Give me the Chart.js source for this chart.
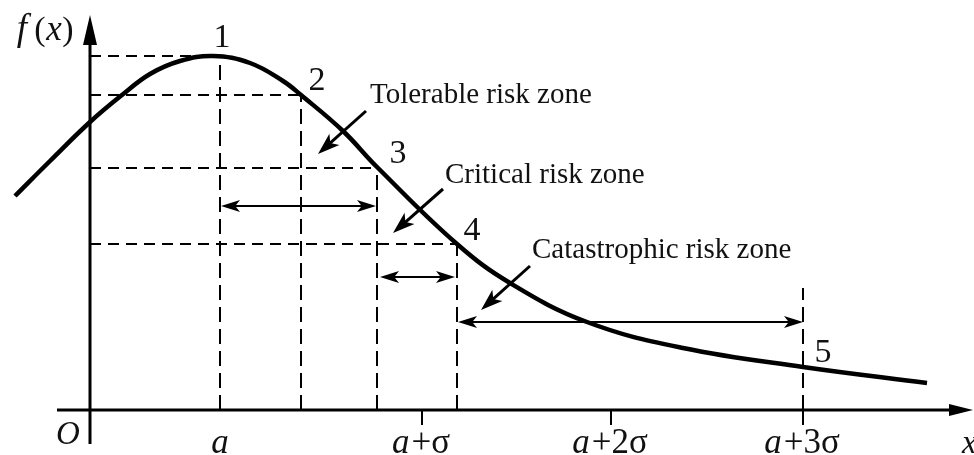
<!DOCTYPE html>
<html>
<head>
<meta charset="utf-8">
<script src="https://cdn.jsdelivr.net/npm/chart.js@4"></script>
<style>html,body{margin:0;padding:0;background:#fff;overflow:hidden}canvas{display:block}</style>
</head>
<body>
<canvas id="c" width="974" height="455"></canvas>
<script>
// ---- data (abstract units) ----
const curveX = [-7.5, -4.0, 0.0, 3.2, 6.0, 9.0, 12.3, 16.0, 19.3, 21.1, 25.3, 28.7, 36.7, 42.0, 49.7, 59.3, 71.3, 83.7];
const curveY = [21.4, 24.9, 28.8, 31.5, 33.6, 34.9, 35.4, 34.7, 32.9, 31.5, 27.9, 24.3, 16.6, 12.7, 8.8, 6.2, 4.3, 2.7];

const pointLabels = ['1', '2', '3', '4', '5'];
const pointX = [13.0, 21.1, 28.7, 36.7, 71.3];
const pointY = [35.4, 31.5, 24.2, 16.6, 12.2];
const pointHasLevel = [true, true, true, true, false];
const labelX = [13.2, 22.7, 30.8, 38.2, 73.3];
const labelY = [36.3, 32.0, 24.7, 17.0, 4.8];

const tickLabels = ['a', 'a+σ', 'a+2σ', 'a+3σ'];
const tickX = [13.0, 33.2, 52.1, 71.3];

const zoneNames = ['Tolerable risk zone', 'Critical risk zone', 'Catastrophic risk zone'];
const zoneFrom = [13.1, 29.0, 36.8];
const zoneTo = [28.6, 36.5, 71.3];
const zoneArrowY = [20.4, 13.3, 8.8];
const zoneTextX = [28.0, 35.5, 44.2];
const zoneTextY = [30.7, 22.7, 15.2];
const pointerFromX = [27.6, 35.3, 44.0];
const pointerFromY = [29.9, 22.1, 14.4];
const pointerToX = [22.8, 30.3, 39.1];
const pointerToY = [25.6, 17.7, 10.0];

// ---- datasets built from arrays ----
const curveData = curveX.map((x, i) => ({x, y: curveY[i]}));
const hDash = [];
const vDash = [];
pointX.forEach((x, i) => {
  if (pointHasLevel[i]) { hDash.push({x: 0, y: pointY[i]}, {x, y: pointY[i]}, {x, y: null}); }
  vDash.push({x, y: 0}, {x, y: pointY[i]}, {x: x + 0.01, y: null});
});

const FONT = '"Liberation Serif", "Times New Roman", serif';

function head(ctx, x1, y1, x2, y2, len, hw, barb) {
  const a = Math.atan2(y2 - y1, x2 - x1);
  ctx.save();
  ctx.translate(x2, y2);
  ctx.rotate(a);
  ctx.beginPath();
  ctx.moveTo(0, 0);
  ctx.lineTo(-len, -hw);
  ctx.lineTo(-len * barb, 0);
  ctx.lineTo(-len, hw);
  ctx.closePath();
  ctx.fill();
  ctx.restore();
}
function arrowLine(ctx, x1, y1, x2, y2, len, hw, both) {
  const d = Math.hypot(x2 - x1, y2 - y1);
  const ux = (x2 - x1) / d, uy = (y2 - y1) / d;
  const sx = both ? x1 + ux * len * 0.6 : x1, sy = both ? y1 + uy * len * 0.6 : y1;
  ctx.beginPath();
  ctx.moveTo(sx, sy);
  ctx.lineTo(x2 - ux * len * 0.6, y2 - uy * len * 0.6);
  ctx.stroke();
  head(ctx, x1, y1, x2, y2, len, hw, 0.75);
  if (both) head(ctx, x2, y2, x1, y1, len, hw, 0.75);
}

const decor = {
  id: 'decor',
  beforeDatasetsDraw(chart) {
    const ctx = chart.ctx, xs = chart.scales.x, ys = chart.scales.y;
    const X = v => xs.getPixelForValue(v), Y = v => ys.getPixelForValue(v);
    ctx.save();
    ctx.strokeStyle = '#000';
    ctx.fillStyle = '#000';
    // axes
    ctx.lineWidth = 3;
    ctx.beginPath();
    ctx.moveTo(X(0), Y(-3.4)); ctx.lineTo(X(0), Y(38.5));
    ctx.moveTo(X(-3.3), Y(0)); ctx.lineTo(X(86.5), Y(0));
    ctx.stroke();
    head(ctx, X(0), Y(30), X(0), Y(39.5), 30, 7, 1);
    head(ctx, X(70), Y(0), X(88.3), Y(0), 24, 6, 1);
    // tick marks below axis
    ctx.lineWidth = 2;
    tickX.forEach((t, i) => {
      if (i === 0) return;
      ctx.beginPath(); ctx.moveTo(X(t), Y(0)); ctx.lineTo(X(t), Y(-1.5)); ctx.stroke();
    });
    ctx.restore();
  },
  afterDatasetsDraw(chart) {
    const ctx = chart.ctx, xs = chart.scales.x, ys = chart.scales.y;
    const X = v => xs.getPixelForValue(v), Y = v => ys.getPixelForValue(v);
    ctx.save();
    ctx.strokeStyle = '#000';
    ctx.fillStyle = '#000';
    ctx.lineWidth = 2;
    // zone double arrows
    zoneNames.forEach((n, i) => {
      arrowLine(ctx, X(zoneFrom[i]), Y(zoneArrowY[i]), X(zoneTo[i]), Y(zoneArrowY[i]), 19, 6, true);
    });
    // pointer arrows
    ctx.lineWidth = 3;
    zoneNames.forEach((n, i) => {
      arrowLine(ctx, X(pointerFromX[i]), Y(pointerFromY[i]), X(pointerToX[i]), Y(pointerToY[i]), 22, 7.5, false);
    });
    // zone texts
    ctx.textBaseline = 'alphabetic';
    ctx.textAlign = 'left';
    ctx.fillStyle = '#111';
    ctx.font = '29px ' + FONT;
    zoneNames.forEach((n, i) => ctx.fillText(n, X(zoneTextX[i]), Y(zoneTextY[i])));
    // point numbers
    ctx.textAlign = 'center';
    ctx.font = '34px ' + FONT;
    pointLabels.forEach((p, i) => ctx.fillText(p, X(labelX[i]), Y(labelY[i])));
    // tick labels: first char italic, rest upright
    const sz = 35;
    tickLabels.forEach((t, i) => {
      const first = t[0], rest = t.slice(1);
      ctx.font = 'italic ' + sz + 'px ' + FONT;
      const w1 = ctx.measureText(first).width;
      ctx.font = sz + 'px ' + FONT;
      const w2 = ctx.measureText(rest).width + (rest ? 4 : 0);
      const x0 = X(tickX[i]) - (w1 + w2) / 2;
      ctx.textAlign = 'left';
      ctx.font = 'italic ' + sz + 'px ' + FONT;
      ctx.fillText(first, x0, Y(-4.3));
      ctx.font = sz + 'px ' + FONT;
      ctx.fillText(rest, x0 + w1 + 2, Y(-4.3));
    });
    // axis names
    ctx.font = 'italic 33px ' + FONT;
    ctx.textAlign = 'center';
    ctx.fillText('O', X(-2.2), Y(-3.4));
    ctx.textAlign = 'left';
    ctx.fillText('x', X(87.2), Y(-4.3));
    ctx.font = 'italic 37px ' + FONT;
    ctx.textAlign = 'center';
    ctx.fillText('f', X(-6.8), Y(37.0));
    ctx.font = '34px ' + FONT;
    ctx.fillText('(', X(-5.0), Y(37.0));
    ctx.fillText(')', X(-2.2), Y(37.0));
    ctx.font = 'italic 35px ' + FONT;
    ctx.fillText('x', X(-3.6), Y(37.0));
    ctx.restore();
  }
};

new Chart(document.getElementById('c'), {
  type: 'line',
  data: {
    datasets: [
      { data: hDash, borderColor: '#000', borderWidth: 2, borderDash: [11, 7], pointRadius: 0, spanGaps: false, tension: 0 },
      { data: vDash, borderColor: '#000', borderWidth: 2, borderDash: [15, 7], pointRadius: 0, spanGaps: false, tension: 0 },
      { data: curveData, borderColor: '#000', borderWidth: 4.5, pointRadius: 0, tension: 0.4, borderCapStyle: 'butt', borderJoinStyle: 'round' }
    ]
  },
  options: {
    responsive: false,
    animation: false,
    devicePixelRatio: 1,
    layout: { padding: 0 },
    plugins: { legend: { display: false }, tooltip: { enabled: false } },
    scales: {
      x: { type: 'linear', min: -9, max: 88.4, display: false },
      y: { type: 'linear', min: -4.5, max: 41.0, display: false }
    }
  },
  plugins: [decor]
});
</script>
</body>
</html>
